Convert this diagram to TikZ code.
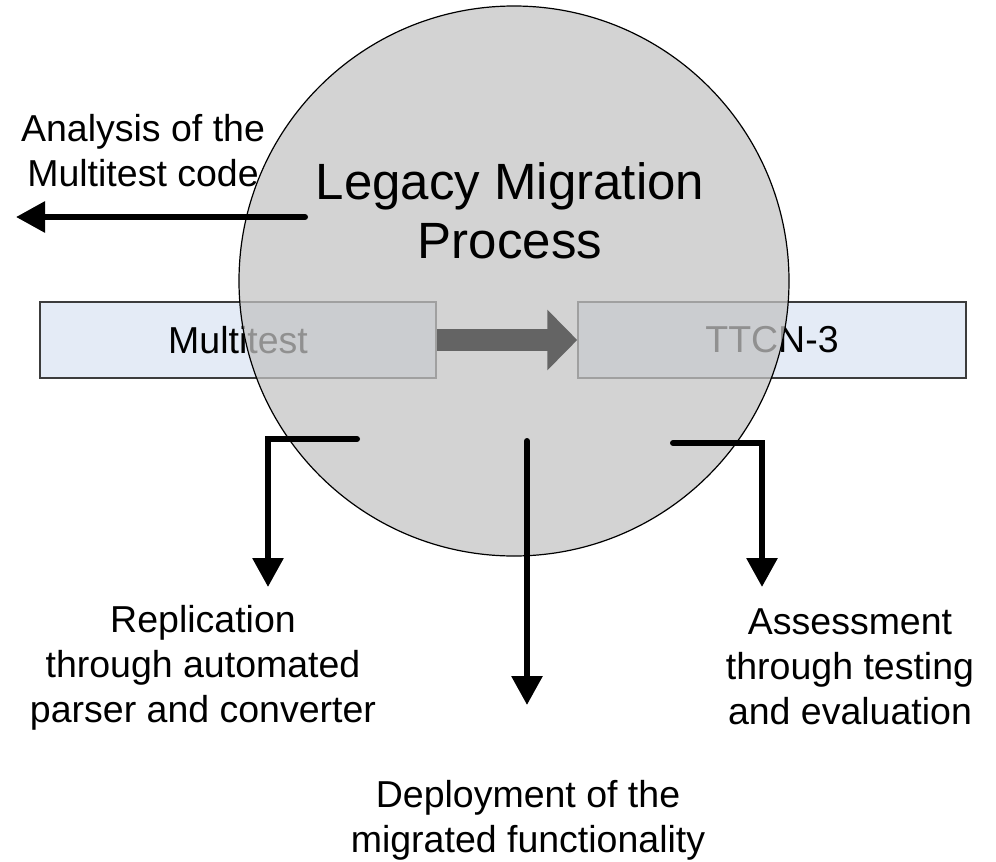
\documentclass[tikz,border=0pt]{standalone}
\usepackage{fontspec}
\setmainfont{Liberation Sans}
\usetikzlibrary{arrows.meta}
\definecolor{boxfill}{RGB}{228,235,246}
\definecolor{boxline}{RGB}{60,60,60}
\definecolor{discfill}{RGB}{195,195,195}
\definecolor{flowgray}{RGB}{100,100,100}
\begin{document}
\begin{tikzpicture}[x=1pt, y=-1pt,
  lbl/.style={font=\fontsize{37.5}{45}\selectfont, align=center, inner sep=0pt},
  sysbox/.style={draw=boxline, line width=1.5pt, fill=boxfill,
    minimum height=76pt, inner sep=0pt, font=\fontsize{37.5}{45}\selectfont},
  flow/.style={line width=6pt, line cap=round, line join=miter,
    -{Triangle[length=29pt, width=30pt]}},
]
\useasboundingbox (0,0) rectangle (996,862);

% source and target platforms
\node[sysbox, minimum width=396pt] (mt) at (238,340) {Multitest};
\node[sysbox, minimum width=388pt] (tt) at (772,340) {TTCN-3};

% the migration process disc, translucent over the platforms
\node[circle, minimum size=550pt, inner sep=0pt, fill=discfill, fill opacity=0.74,
  draw=black, draw opacity=1, line width=1.2pt] (lmp) at (514,281) {};

% conversion arrow between the platforms
\draw[flowgray, line width=22pt,
  -{Triangle[length=30pt, width=59pt]}] (mt.east) -- (tt.west);

\node[font=\fontsize{51}{59}\selectfont, align=center, inner sep=0pt]
  (title) at (510,211) {Legacy Migration\\Process};

% phase labels
\node[lbl] (ana) at (143,150.5) {Analysis of the\\Multitest code};
\node[lbl] (rep) at (203,667.5) {Replication\\through automated\\parser and converter};
\node[lbl] (dep) at (528,820) {Deployment of the\\migrated functionality};
\node[lbl] (ass) at (850,666.5) {Assessment\\through testing\\and evaluation};

% arrow end points
\coordinate (anaS) at (305,217);
\coordinate (anaE) at (16,217);
\coordinate (repS) at (357,439);
\coordinate (repE) at (268,587);
\coordinate (depS) at (527,441);
\coordinate (depE) at (527,705);
\coordinate (assS) at (673,443);
\coordinate (assE) at (762,587);

\draw[flow] (anaS) -- (anaE);
\draw[flow] (repS) -| (repE);
\draw[flow] (depS) -- (depE);
\draw[flow] (assS) -| (assE);
\end{tikzpicture}
\end{document}
